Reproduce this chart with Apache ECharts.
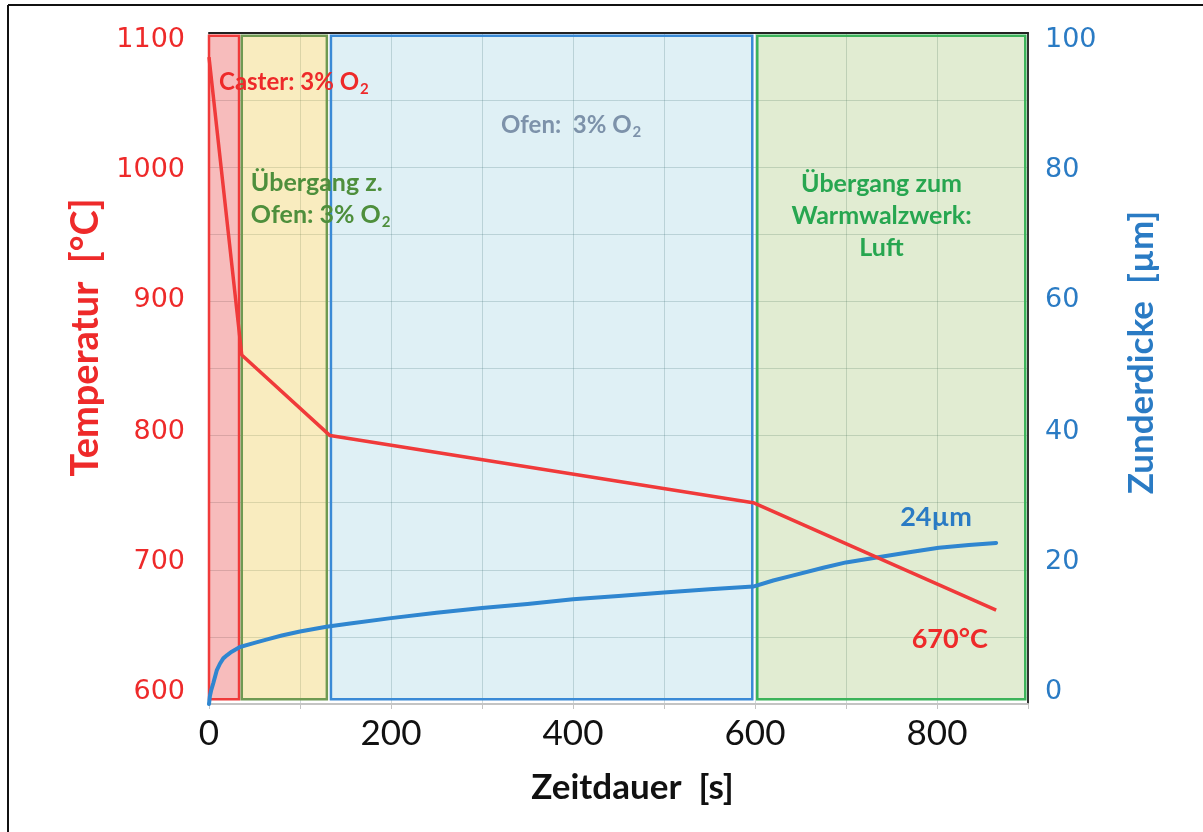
<!DOCTYPE html>
<html>
<head>
<meta charset="utf-8">
<script src="https://cdn.jsdelivr.net/npm/echarts@6/dist/echarts.min.js"></script>
<style>
  html, body { margin: 0; padding: 0; background: #ffffff; }
  #chart { width: 1203px; height: 832px; }
</style>
</head>
<body>
<div id="chart"></div>
<script>
// Axis tick labels
const timeTicks = [0, 200, 400, 600, 800];
const tempTicks = [600, 700, 800, 900, 1000, 1100];
const scaleTicks = [0, 20, 40, 60, 80, 100];

// Slab surface temperature [°C] over time [s]
const tempTime = [0, 36, 133, 598, 865];
const tempValue = [1082, 860, 800, 750, 670];

// Scale (Zunder) thickness [µm] over time [s]
const scaleTime = [0, 1, 2.5, 4.7, 8.5, 12, 15.7, 20, 25, 34, 50, 63, 80, 100, 129, 155, 200, 250, 300, 350, 400, 450, 500, 550, 598, 620, 640, 675, 700, 737, 773, 802, 835, 865];
const scaleValue = [0, 1.2, 2.1, 3.1, 5.0, 6.0, 6.8, 7.3, 7.8, 8.5, 9.1, 9.6, 10.2, 10.8, 11.5, 12.0, 12.8, 13.6, 14.3, 14.9, 15.6, 16.1, 16.6, 17.1, 17.5, 18.4, 19.1, 20.3, 21.1, 21.9, 22.7, 23.3, 23.7, 24.0];

// Process zones along the time axis [s]
const zoneStart = [0, 36, 134, 602.5];
const zoneEnd = [33, 129.5, 597, 897];
const zoneFill = ['rgba(232,64,64,0.35)', 'rgba(238,201,72,0.35)', 'rgba(95,180,205,0.2)', 'rgba(135,179,75,0.25)'];
const zoneBorder = ['#f03a3a', '#6f9a52', '#3a8ad6', '#3cb35a'];

// Annotation texts placed in data coordinates (time, temperature)
const noteText = [
  'Caster: 3% O{sub|2}',
  'Ofen:  3% O{sub|2}',
  'Übergang z.\nOfen: 3% O{sub|2}',
  'Übergang zum\nWarmwalzwerk:\nLuft',
  '24µm',
  '670°C'
];
const noteTime = [11, 398, 46, 739, 799, 814];
const noteTemp = [1063, 1031, 976, 964, 739, 648];
const noteColor = ['#ee2a2a', '#7d92aa', '#4e8f3c', '#27a650', '#2a7bc4', '#ee2a2a'];
const noteAlign = ['left', 'center', 'left', 'center', 'center', 'center'];
const noteSize = [24, 24, 25, 25, 27, 27];

const chart = echarts.init(document.getElementById('chart'), null, { renderer: 'canvas' });
const gridColor = 'rgba(60,95,95,0.24)';
const font = 'Lato';

// Vertical tick labels sit on a slightly tighter pitch than the grid:
// the top label drops a little, the bottom label rises a little.
function tickLabelRich(ticks, color) {
  const rich = {};
  ticks.forEach((v, i) => {
    const f = i / (ticks.length - 1);
    const shift = Math.round(-12 + 19 * f);
    rich['t' + i] = {
      color: color, fontFamily: 'DejaVu Sans', fontSize: 27,
      padding: shift >= 0 ? [2 * shift, 0, 0, 0] : [0, 0, -2 * shift, 0]
    };
  });
  return rich;
}
function tickLabelFormatter(ticks) {
  return v => {
    const i = ticks.indexOf(v);
    return i < 0 ? '' : '{t' + i + '|' + v + '}';
  };
}

const zones = zoneStart.map((s, i) => [
  { xAxis: s, yAxis: 603.5, itemStyle: { color: zoneFill[i], borderColor: zoneBorder[i], borderWidth: 2.5 } },
  { xAxis: zoneEnd[i], yAxis: 1098 }
]);

chart.setOption({
  animation: false,
  grid: { left: 209, right: 175, top: 33, bottom: 128, containLabel: false },
  xAxis: [
    {
      type: 'value', min: 0, max: 900, interval: 100, position: 'bottom',
      axisLine: { show: true, onZero: false, lineStyle: { color: '#c4c4c4', width: 2 } },
      axisTick: { show: true, length: 5, lineStyle: { color: '#c4c4c4' } },
      axisLabel: {
        margin: 12, fontFamily: font, fontSize: 35, color: '#111',
        formatter: v => timeTicks.includes(v) ? String(v) : ''
      },
      splitLine: { show: true, lineStyle: { color: gridColor, width: 1 } },
      name: 'Zeitdauer  [s]', nameLocation: 'middle', nameGap: 66,
      nameTextStyle: { fontFamily: font, fontWeight: 'bold', fontSize: 35, color: '#111', padding: [0, 0, 0, 28] }
    },
    {
      type: 'value', min: 0, max: 900, position: 'top',
      axisLine: { show: true, onZero: false, lineStyle: { color: '#222', width: 2 } },
      axisTick: { show: false }, axisLabel: { show: false }, splitLine: { show: false }
    }
  ],
  yAxis: [
    {
      type: 'value', min: 600, max: 1100, interval: 50, position: 'left',
      axisLine: { show: true, onZero: false, lineStyle: { color: '#c4c4c4', width: 1.5 } },
      axisTick: { show: false },
      axisLabel: {
        margin: 24, fontFamily: 'DejaVu Sans', fontSize: 27, color: '#ee2a2a',
        formatter: tickLabelFormatter(tempTicks), rich: tickLabelRich(tempTicks, '#ee2a2a')
      },
      splitLine: { show: true, lineStyle: { color: gridColor, width: 1 } },
      name: 'Temperatur  [°C]', nameLocation: 'middle', nameRotate: 90, nameGap: 104,
      nameTextStyle: { fontFamily: font, fontWeight: 'bold', fontSize: 38, color: '#ee2a2a', padding: [0, 0, 0, 62] }
    },
    {
      type: 'value', min: 0, max: 100, interval: 10, position: 'right',
      axisLine: { show: true, onZero: false, lineStyle: { color: '#333', width: 2 } },
      axisTick: { show: false },
      axisLabel: {
        margin: 17, fontFamily: 'DejaVu Sans', fontSize: 27, color: '#2a7bc4',
        formatter: tickLabelFormatter(scaleTicks), rich: tickLabelRich(scaleTicks, '#2a7bc4')
      },
      splitLine: { show: false },
      name: 'Zunderdicke  [µm]', nameLocation: 'middle', nameRotate: 90, nameGap: 96,
      nameTextStyle: { fontFamily: font, fontWeight: 'bold', fontSize: 35, color: '#2a7bc4', padding: [0, 0, 0, 32] }
    }
  ],
  series: [
    {
      type: 'line', name: 'Temperatur', xAxisIndex: 0, yAxisIndex: 0,
      data: tempTime.map((t, i) => [t, tempValue[i]]),
      symbol: 'none', lineStyle: { color: '#f03a3a', width: 3.5 }, z: 5,
      markArea: { silent: true, data: zones }
    },
    {
      type: 'line', name: 'Zunderdicke', xAxisIndex: 0, yAxisIndex: 1,
      data: scaleTime.map((t, i) => [t, scaleValue[i]]),
      symbol: 'none', smooth: false,
      lineStyle: { color: '#2f86d0', width: 4, join: 'round', cap: 'round' }, z: 4
    }
  ]
});

// Annotations and the outer frame
const graphics = noteText.map((txt, i) => {
  const p = chart.convertToPixel({ xAxisIndex: 0, yAxisIndex: 0 }, [noteTime[i], noteTemp[i]]);
  return {
    type: 'text', x: p[0], y: p[1], z: 10, silent: true,
    style: {
      text: txt, fill: noteColor[i], fontFamily: font, fontWeight: 'bold', fontSize: noteSize[i],
      align: noteAlign[i], verticalAlign: 'middle', lineHeight: 32,
      rich: { sub: { fill: noteColor[i], fontFamily: font, fontWeight: 'bold', fontSize: 15, padding: [14, 0, 0, 1] } }
    }
  };
});
graphics.push(
  { type: 'line', silent: true, shape: { x1: 8, y1: 5, x2: 1203, y2: 5 }, style: { stroke: '#111', lineWidth: 2 } },
  { type: 'line', silent: true, shape: { x1: 8, y1: 5, x2: 8, y2: 832 }, style: { stroke: '#111', lineWidth: 2 } }
);
chart.setOption({ graphic: graphics });
</script>
</body>
</html>
